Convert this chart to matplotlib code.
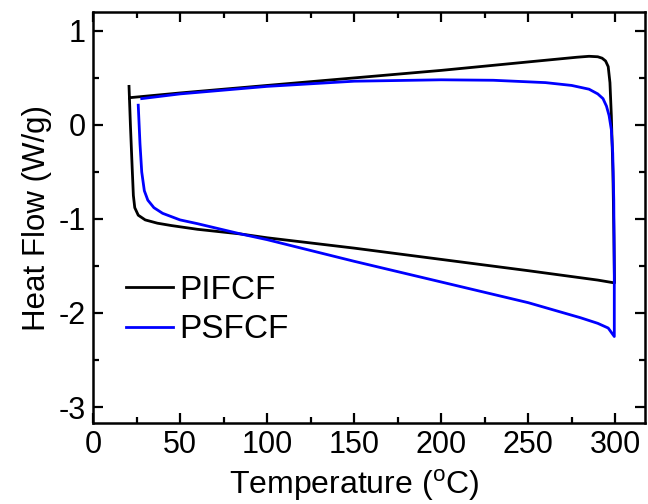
import matplotlib
matplotlib.use("Agg")
import matplotlib.pyplot as plt
from matplotlib.ticker import MultipleLocator

plt.rcParams['font.family'] = ['Liberation Sans', 'DejaVu Sans']
plt.rcParams['mathtext.fontset'] = 'custom'
plt.rcParams['mathtext.rm'] = 'Liberation Sans'
plt.rcParams['axes.unicode_minus'] = False

# PIFCF loop (temperature, heat flow)
pifcf_T = [20.7, 21.5, 22.5, 23.2, 24.0, 26.0, 30.0, 37.0, 45.0, 60.0, 85.0, 100.0, 150.0, 200.0,
           250.0, 290.0, 299.6, 299.3, 298.7, 297.8, 297.0, 296.0, 294.5, 292.5, 290.0, 285.0,
           278.0, 250.0, 200.0, 150.0, 100.0, 50.0, 21.2]
pifcf_Q = [0.41, 0.0, -0.45, -0.75, -0.88, -0.96, -1.01, -1.045, -1.07, -1.11, -1.16, -1.20, -1.31, -1.43,
           -1.55, -1.65, -1.68, -1.2, -0.5, 0.1, 0.45, 0.62, 0.68, 0.71, 0.725, 0.73,
           0.72, 0.67, 0.58, 0.50, 0.42, 0.34, 0.29]

# PSFCF loop
psfcf_T = [26.0, 27.0, 28.0, 29.5, 31.5, 35.0, 40.0, 50.0, 60.0, 85.0, 100.0, 150.0, 200.0,
           250.0, 280.0, 290.0, 296.0, 299.5, 299.5, 299.2, 298.6, 297.8, 296.5, 295.0, 293.0,
           290.0, 285.0, 275.0, 260.0, 230.0, 200.0, 150.0, 100.0, 50.0, 28.0]
psfcf_Q = [0.21, -0.2, -0.5, -0.7, -0.8, -0.88, -0.94, -1.01, -1.05, -1.16, -1.22, -1.45, -1.67,
           -1.89, -2.05, -2.11, -2.16, -2.25, -1.6, -0.8, -0.3, -0.05, 0.1, 0.2, 0.28,
           0.33, 0.38, 0.42, 0.45, 0.475, 0.48, 0.465, 0.41, 0.33, 0.28]

fig = plt.figure(figsize=(6.48, 5.04), dpi=100)
ax = fig.add_axes([0.1435, 0.1607, 0.8515, 0.8153])

ax.plot(pifcf_T, pifcf_Q, color='black', lw=2.0, label='PIFCF')
ax.plot(psfcf_T, psfcf_Q, color='#0000ff', lw=2.0, label='PSFCF')

ax.set_xlim(0, 317)
ax.set_ylim(-3.17, 1.2)
ax.xaxis.set_major_locator(MultipleLocator(50))
ax.xaxis.set_minor_locator(MultipleLocator(25))
ax.yaxis.set_major_locator(MultipleLocator(1))
ax.yaxis.set_minor_locator(MultipleLocator(0.5))
ax.tick_params(which='both', direction='in', top=True, right=True, width=1.6)
ax.tick_params(which='major', length=7, labelsize=22, pad=5)
ax.tick_params(which='minor', length=4)
ax.tick_params(axis='y', which='both', right=True, labelright=False)
ax.tick_params(axis='x', which='both', top=True, labeltop=False)
for s in ax.spines.values():
    s.set_linewidth(1.8)

ax.set_xlabel('Temperature ($^{\\mathrm{o}}$C)', fontsize=23, labelpad=5)
ax.xaxis.label.set_x(0.473)
ax.set_ylabel('Heat Flow (W/g)', fontsize=22.5, labelpad=5)

ax.legend(loc='upper left', bbox_to_anchor=(0.06, 0.36), frameon=False, fontsize=24,
          handlelength=1.4, handletextpad=0.2, labelspacing=0.25, borderaxespad=0,
          borderpad=0)

fig.savefig('out.png', dpi=100)
